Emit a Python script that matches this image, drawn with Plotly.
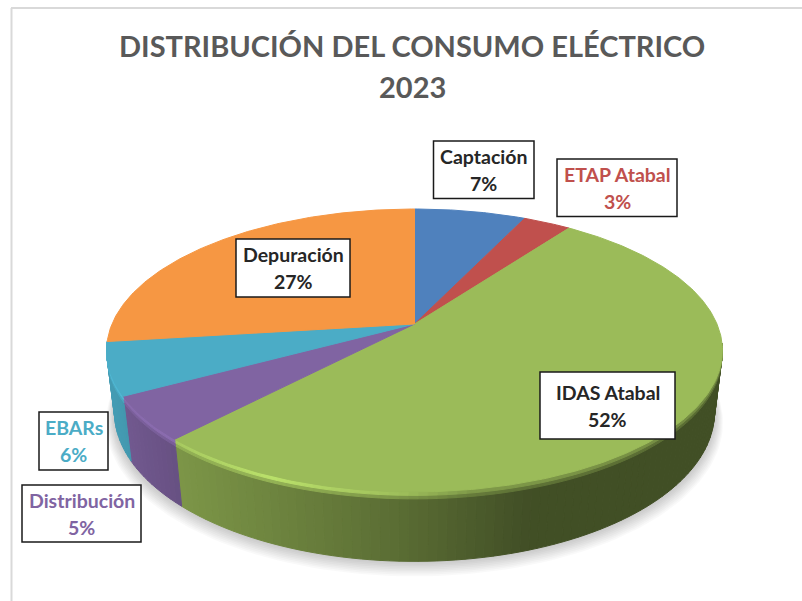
import numpy as np
import plotly.graph_objects as go

# ---- data ----
categories = ["Captación", "ETAP Atabal", "IDAS Atabal", "Distribución", "EBARs", "Depuración"]
values = [7, 3, 52, 5, 6, 27]
slice_colors = ["#4F81BD", "#C0504D", "#9BBB59", "#8064A2", "#4BACC6", "#F69743"]
label_colors = ["#262626", "#C0504D", "#262626", "#8064A2", "#4BACC6", "#262626"]
label_boxes = [(433.5, 534, 141, 198.5), (557, 677, 159, 216.5), (540, 675, 372, 439),
               (22, 141, 485, 542), (39, 108, 412, 470), (236, 350, 239, 297)]
title_lines = ["DISTRIBUCIÓN DEL CONSUMO ELÉCTRICO", "2023"]

# ---- 3D pie projection ----
CX, CY, RX, RY, K, H, BOTTOM_R = 414.5, 324.0, 302.5, 136.5, 0.187, 61.0, 0.975
FONT = "Lato, 'Noto Sans', sans-serif"


def project(theta, r=1.0, z=0.0):
    u, v = r * np.sin(theta), r * np.cos(theta)
    s = 1.0 / (1.0 + K * v)
    return CX + RX * u * s, CY - RY * v * s + H * z * s


def to_rgb(hex_color):
    return np.array([int(hex_color[i:i + 2], 16) for i in (1, 3, 5)], dtype=float)


def css(rgb):
    c = np.clip(np.round(rgb), 0, 255).astype(int)
    return f"rgb({c[0]},{c[1]},{c[2]})"


def side_shade(x):
    return np.interp(x, [100, 177, 400, 530, 802], [0.92, 0.80, 0.58, 0.42, 0.42])


def rim_shade(x):
    return np.interp(x, [100, 177, 270, 400, 470, 802], [1.06, 1.08, 1.2, 1.02, 0.82, 0.72])


fig = go.Figure()


def poly(xs, ys, color):
    fig.add_trace(go.Scatter(x=xs, y=ys, mode="lines", fill="toself", fillcolor=color,
                             line=dict(color=color, width=1), hoverinfo="skip", showlegend=False))


# soft shadow under the pie
ring = np.linspace(0, 2 * np.pi, 240)
for i in range(9, 0, -1):
    sx, sy = project(ring, BOTTOM_R + 0.003 * i, 1.0)
    fig.add_trace(go.Scatter(x=sx, y=sy + 1.0 * i, mode="lines", fill="toself",
                             fillcolor="rgba(0,0,0,0.022)", line=dict(width=0),
                             hoverinfo="skip", showlegend=False))

fractions = np.cumsum([0] + values) / float(sum(values))
angles = 2 * np.pi * fractions

# side wall and rim, built as thin strips along the visible front
front_a, front_b = np.radians(98), np.radians(262.7)
layers = ((1.0, BOTTOM_R, "wall"), (0.10, None, "mid"), (0.05, None, "rim"))
for z1, r_end, kind in layers:
    for idx, color in enumerate(slice_colors):
        a0, a1 = max(angles[idx], front_a), min(angles[idx + 1], front_b)
        if a1 <= a0:
            continue
        base = to_rgb(color)
        n = max(2, int(np.degrees(a1 - a0) / 1.5))
        edges = np.linspace(a0, a1, n + 1)
        for t0, t1 in zip(edges[:-1], edges[1:]):
            mid_x = project((t0 + t1) / 2)[0]
            wall = base * side_shade(mid_x)
            rim = base * rim_shade(mid_x)
            col = {"wall": wall, "mid": 0.5 * rim + 0.5 * wall, "rim": rim}[kind]
            r_low = r_end if r_end is not None else 1.0 - (1.0 - BOTTOM_R) * z1
            xa, ya = project(np.array([t0, t1]), 1.0, 0.0)
            xb, yb = project(np.array([t1, t0]), r_low, z1)
            poly(list(xa) + list(xb) + [xa[0]], list(ya) + list(yb) + [ya[0]], css(col))

# top face
for idx, color in enumerate(slice_colors):
    t = np.linspace(angles[idx], angles[idx + 1], max(3, int(values[idx] * 5)))
    x, y = project(t)
    cx0, cy0 = project(0.0, 0.0)
    poly([cx0] + list(x) + [cx0], [cy0] + list(y) + [cy0], color)

# labels
annotations = []
shapes = [
    dict(type="line", xref="x", yref="y", x0=11.5, x1=11.5, y0=8, y1=601, line=dict(color="#D9D9D9", width=2)),
    dict(type="line", xref="x", yref="y", x0=11, x1=802, y0=8, y1=8, line=dict(color="#D9D9D9", width=2)),
]
for cat, val, col, (x0, x1, y0, y1) in zip(categories, values, label_colors, label_boxes):
    shapes.append(dict(type="rect", xref="x", yref="y", x0=x0, x1=x1, y0=y0, y1=y1, layer="above",
                       fillcolor="white", line=dict(color="#1A1A1A", width=1.5)))
    xm, ym = (x0 + x1) / 2, (y0 + y1) / 2
    for txt, dy in ((cat, -13.5), (f"{val}%", 13.5)):
        annotations.append(dict(x=xm, y=ym + dy, xref="x", yref="y", text=txt, showarrow=False,
                                font=dict(family=FONT, size=19.5, color=col, weight=700),
                                xanchor="center", yanchor="middle"))
for txt, yy in zip(title_lines, (45, 86)):
    annotations.append(dict(x=412, y=yy, xref="x", yref="y", text=txt, showarrow=False,
                            font=dict(family=FONT, size=29, color="#595959", weight=700),
                            xanchor="center", yanchor="middle"))

fig.update_layout(
    width=802, height=601, margin=dict(l=0, r=0, t=0, b=0),
    paper_bgcolor="white", plot_bgcolor="white", showlegend=False,
    xaxis=dict(range=[0, 802], visible=False, fixedrange=True),
    yaxis=dict(range=[601, 0], visible=False, fixedrange=True),
    shapes=shapes, annotations=annotations,
)
fig.write_html("out.html", config=dict(displayModeBar=False),
               post_script="document.body.style.margin='0';document.documentElement.style.overflow='hidden';")
